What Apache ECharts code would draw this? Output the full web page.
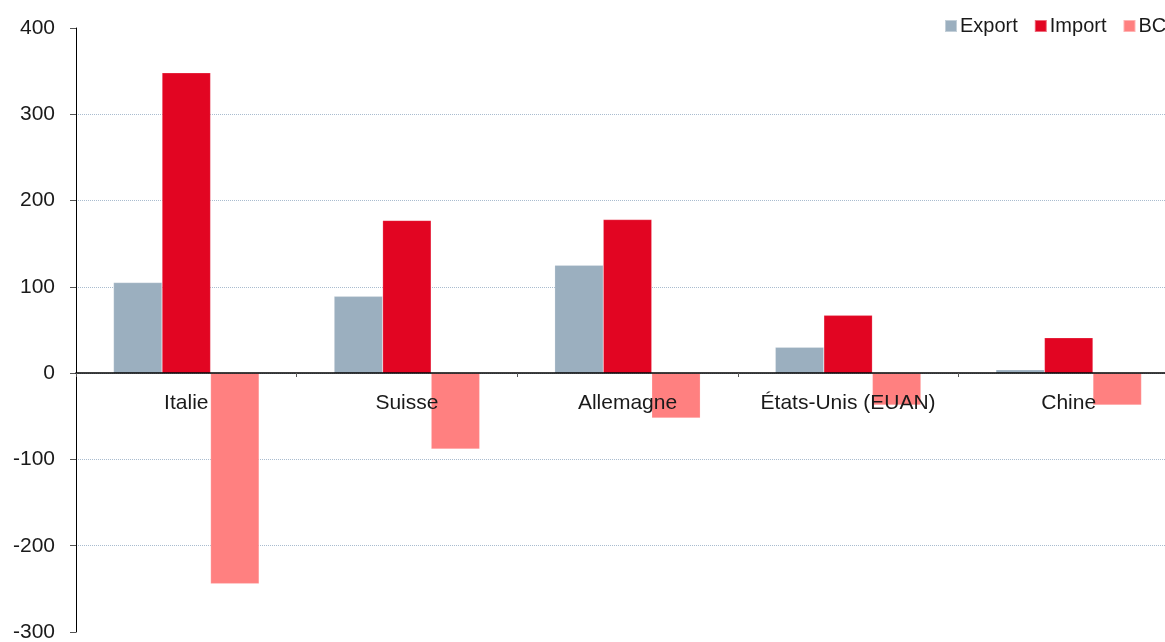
<!DOCTYPE html>
<html>
<head>
<meta charset="utf-8">
<script src="https://cdn.jsdelivr.net/npm/echarts@6/dist/echarts.min.js"></script>
<style>
html,body{margin:0;padding:0;background:#fff;}
#c{width:1165px;height:642px;}
</style>
</head>
<body>
<div id="c"></div>
<script>
var categories = ['Italie', 'Suisse', 'Allemagne', 'États-Unis (EUAN)', 'Chine'];
var exportValues = [105, 89, 125, 30, 4];
var importValues = [348, 177, 178, 67, 41];
var bcValues = [-244, -88, -52, -37, -37];
var seriesNames = ['Export', 'Import', 'BC'];

var font = '"Liberation Sans", Arial, Helvetica, sans-serif';
var chart = echarts.init(document.getElementById('c'), null, {renderer: 'canvas'});
var option = {
  animation: false,
  backgroundColor: '#ffffff',
  textStyle: {fontFamily: font},
  legend: {
    data: seriesNames,
    left: 939,
    top: 11,
    width: 400,
    itemWidth: 12,
    itemHeight: 12,
    itemGap: 16,
    icon: 'rect',
    textStyle: {fontFamily: font, fontSize: 20, color: '#1a1a1a', padding: [0, 0, 0, -2]}
  },
  grid: {left: 76, top: 28, bottom: 10, right: -14, containLabel: false, outerBoundsMode: 'none'},
  xAxis: {
    type: 'category',
    data: categories,
    boundaryGap: true,
    position: 'bottom',
    offset: -259,
    z: 5,
    axisLine: {onZero: false, lineStyle: {color: '#000', width: 1.5}},
    axisTick: {show: true, length: 4, interval: 0, lineStyle: {color: '#555'}},
    axisLabel: {fontFamily: font, fontSize: 21, color: '#1a1a1a', margin: 20, interval: 0, hideOverlap: false}
  },
  yAxis: {
    type: 'value',
    min: -300,
    max: 400,
    interval: 100,
    axisLine: {show: true, lineStyle: {color: '#000', width: 1}},
    axisTick: {show: true, length: 6, lineStyle: {color: '#555'}},
    axisLabel: {fontFamily: font, fontSize: 21, color: '#1a1a1a', margin: 21},
    splitLine: {show: true, showMinLine: false, showMaxLine: false,
      lineStyle: {color: '#a9bccf', type: [1, 1], width: 1}}
  },
  series: [
    {name: 'Export', type: 'bar', data: exportValues, barWidth: '22%', barGap: '0%',
      itemStyle: {color: '#9bafbf', borderColor: 'rgba(255,255,255,0.4)', borderWidth: 0.5}},
    {name: 'Import', type: 'bar', data: importValues, barWidth: '22%', barGap: '0%',
      itemStyle: {color: '#e20522', borderColor: 'rgba(255,255,255,0.4)', borderWidth: 0.5}},
    {name: 'BC', type: 'bar', data: bcValues, barWidth: '22%', barGap: '0%',
      itemStyle: {color: '#ff8080', borderColor: 'rgba(255,255,255,0.4)', borderWidth: 0.5}}
  ]
};
chart.setOption(option);
</script>
</body>
</html>
